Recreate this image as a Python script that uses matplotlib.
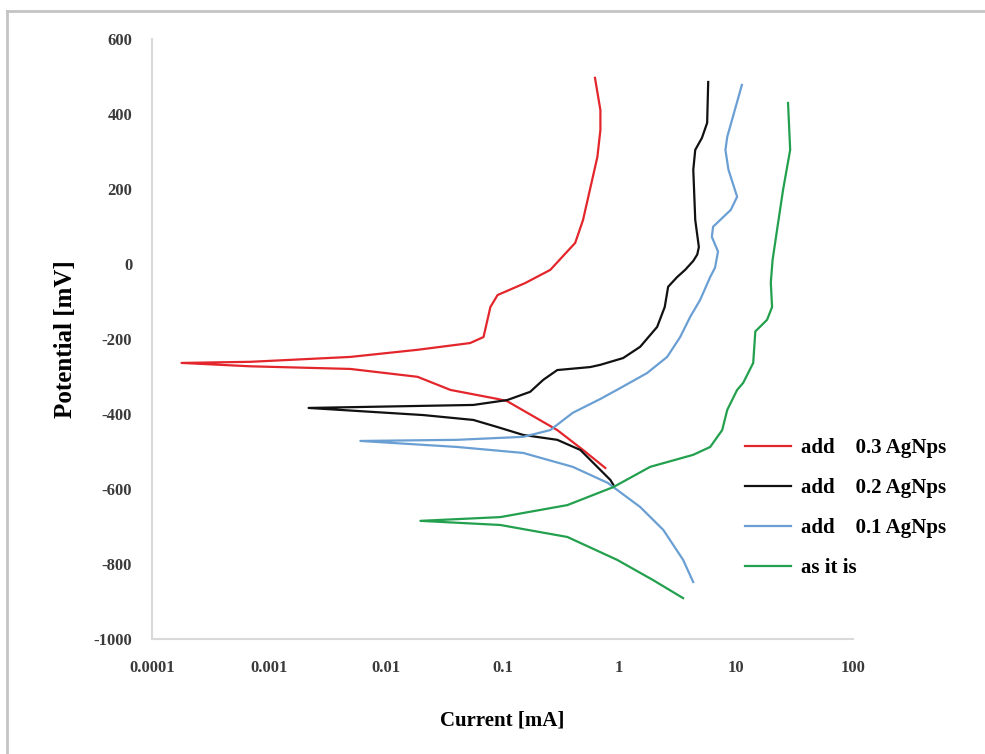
import matplotlib
matplotlib.use('Agg')
import matplotlib.pyplot as plt
from matplotlib.lines import Line2D

# polarization curves (current in mA, potential in mV)
red_i = [0.62, 0.69, 0.69, 0.65, 0.49, 0.42, 0.257, 0.157, 0.091, 0.079, 0.069, 0.053, 0.0188,
         0.005, 0.0007, 0.00018, 0.0007, 0.005, 0.0188, 0.036, 0.091, 0.11, 0.295, 0.49, 0.76]
red_e = [496, 410, 357, 285, 117, 56, -16, -51, -83, -115, -195, -211, -229,
         -248, -261, -264, -273, -280, -301, -336, -360, -366, -443, -496, -544]

black_i = [5.77, 5.65, 5.1, 4.47, 4.3, 4.47, 4.8, 4.65, 4.3, 3.66, 3.13, 2.62, 2.45, 2.11, 1.51,
           1.08, 0.69, 0.565, 0.295, 0.224, 0.173, 0.11, 0.0565, 0.0022, 0.0211, 0.0565, 0.091,
           0.151, 0.295, 0.465, 0.84, 0.89]
black_e = [485, 376, 336, 304, 251, 117, 45, 25, 8, -16, -35, -61, -115, -168, -221,
           -251, -269, -275, -283, -309, -341, -363, -376, -384, -403, -416, -435,
           -456, -469, -496, -576, -589]

blue_i = [11.2, 8.4, 8.1, 8.6, 10.2, 9.0, 6.35, 6.2, 7.0, 6.6, 6.0, 4.92, 4.05, 3.32, 2.57, 1.73,
          1.02, 0.69, 0.40, 0.257, 0.151, 0.041, 0.0061, 0.041, 0.151, 0.40, 0.80, 0.89, 1.51,
          2.38, 3.52, 4.29]
blue_e = [477, 339, 304, 251, 179, 144, 99, 72, 33, -10, -35, -96, -141, -195, -248, -291,
          -331, -360, -397, -443, -461, -469, -472, -488, -504, -541, -584, -595, -648,
          -709, -789, -848]

green_i = [27.8, 29, 25.2, 22.4, 20.5, 19.8, 20.3, 18.4, 14.6, 14.0, 11.5, 10.2, 8.4, 7.6, 6.0,
           4.29, 1.84, 0.89, 0.36, 0.096, 0.0199, 0.096, 0.36, 0.96, 1.95, 3.52]
green_e = [429, 304, 197, 91, 10, -50, -115, -149, -180, -264, -317, -336, -389, -443, -488,
           -509, -541, -595, -643, -675, -685, -696, -728, -789, -843, -891]

labels = ['add    0.3 AgNps', 'add    0.2 AgNps', 'add    0.1 AgNps', 'as it is']
colors = ['#e3262c', '#111111', '#6a9fd4', '#23a04e']

xticks = [0.0001, 0.001, 0.01, 0.1, 1, 10, 100]
xticklabels = ['0.0001', '0.001', '0.01', '0.1', '1', '10', '100']
yticks = list(range(-1000, 601, 200))

plt.rcParams['font.family'] = ['Liberation Serif', 'DejaVu Serif']
plt.rcParams['axes.unicode_minus'] = False

fig = plt.figure(figsize=(9.85, 7.54), dpi=100)
ax = fig.add_axes([0.154, 0.1525, 0.712, 0.796])

curves = [(red_i, red_e), (black_i, black_e), (blue_i, blue_e), (green_i, green_e)]
for (ci, ce), lab, col in zip(curves, labels, colors):
    ax.plot(ci, ce, color=col, linewidth=1.6, label=lab, solid_joinstyle='round')

ax.set_xscale('log')
ax.set_xlim(0.0001, 100)
ax.set_ylim(-1000, 600)
ax.set_xticks(xticks)
ax.set_xticklabels(xticklabels)
ax.set_yticks(yticks)
ax.minorticks_off()
ax.tick_params(axis='both', length=0, labelsize=12, labelcolor='#3a3a3a')
ax.tick_params(axis='x', pad=15)
ax.tick_params(axis='y', pad=14)
for lbl in ax.get_xticklabels() + ax.get_yticklabels():
    lbl.set_fontweight('bold')

for s in ['top', 'right']:
    ax.spines[s].set_visible(False)
for s in ['left', 'bottom']:
    ax.spines[s].set_color('#d9d9d9')
    ax.spines[s].set_linewidth(1.5)

ax.set_xlabel('Current [mA]', fontsize=15, fontweight='bold', labelpad=25)
ax.set_ylabel('Potential [mV]', fontsize=18, fontweight='bold', labelpad=12)

ax.legend(loc='center left', bbox_to_anchor=(0.846, 0.218), frameon=False,
          prop={'weight': 'bold', 'size': 15}, handlelength=2.2, handletextpad=0.5,
          labelspacing=0.95, borderaxespad=0, borderpad=0)

# picture frame (only left and top edges visible)
fig.add_artist(Line2D([0.007, 0.007], [0.0, 0.986], color='#c4c4c4', linewidth=2,
                      transform=fig.transFigure))
fig.add_artist(Line2D([0.007, 1.0], [0.986, 0.986], color='#c4c4c4', linewidth=2,
                      transform=fig.transFigure))

fig.savefig('out.png', dpi=100)
